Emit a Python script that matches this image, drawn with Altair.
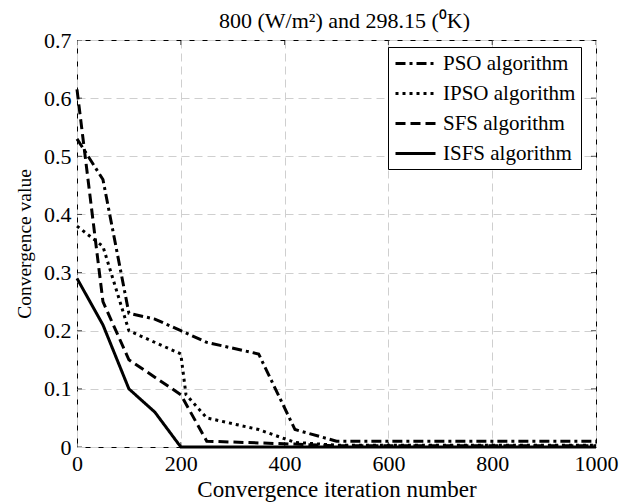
import altair as alt
import pandas as pd

# ---- data ----
series_names = ["PSO algorithm", "IPSO algorithm", "SFS algorithm", "ISFS algorithm"]

pso_x = [0, 50, 100, 150, 200, 250, 350, 420, 500, 1000]
pso_y = [0.53, 0.46, 0.23, 0.22, 0.20, 0.18, 0.16, 0.03, 0.01, 0.01]

ipso_x = [0, 50, 100, 200, 210, 250, 350, 420, 500, 1000]
ipso_y = [0.38, 0.345, 0.20, 0.16, 0.09, 0.05, 0.03, 0.008, 0.003, 0.003]

sfs_x = [0, 50, 100, 200, 250, 420, 500, 1000]
sfs_y = [0.615, 0.25, 0.15, 0.09, 0.01, 0.005, 0.002, 0.002]

isfs_x = [0, 50, 100, 150, 200, 1000]
isfs_y = [0.29, 0.21, 0.10, 0.06, 0.0, 0.0]

x_ticks = [0, 200, 400, 600, 800, 1000]
y_ticks = [0, 0.1, 0.2, 0.3, 0.4, 0.5, 0.6, 0.7]

rows = []
for name, xs, ys in zip(series_names, [pso_x, ipso_x, sfs_x, isfs_x], [pso_y, ipso_y, sfs_y, isfs_y]):
    for i, (a, b) in enumerate(zip(xs, ys)):
        rows.append({"series": name, "iter": a, "value": b, "order": i})
df = pd.DataFrame(rows)

xtick_df = pd.DataFrame([{"x": t, "y": e} for t in x_ticks for e in [0, 0.7]])
ytick_df = pd.DataFrame([{"y": t, "x": e} for t in y_ticks for e in [0, 1000]])

FONT = "Liberation Serif"

xscale = alt.Scale(domain=[0, 1000], nice=False, zero=False)
yscale = alt.Scale(domain=[0, 0.7], nice=False, zero=False)

lines = alt.Chart(df).mark_line(strokeWidth=3, color="black", strokeCap="butt").encode(
    x=alt.X("iter:Q", scale=xscale,
            axis=alt.Axis(values=x_ticks, title="Convergence iteration number", format="d",
                          titleFontSize=23)),
    y=alt.Y("value:Q", scale=yscale,
            axis=alt.Axis(values=y_ticks, title="Convergence value", titleFontSize=19.5,
                          labelExpr="datum.value == 0 ? '0' : format(datum.value, '.1f')")),
    strokeDash=alt.StrokeDash(
        "series:N",
        scale=alt.Scale(domain=series_names,
                        range=[[10, 4, 3, 4], [3, 4], [10, 5], [1, 0]]),
        legend=alt.Legend(title=None, orient="none", legendX=311, legendY=7,
                          fillColor="white", strokeColor="black",
                          padding=5, symbolType="M-2,0H2", symbolStrokeWidth=3,
                          symbolStrokeColor="black", symbolSize=400, symbolOffset=11,
                          labelFont=FONT, labelFontSize=21, labelColor="black",
                          labelOffset=16, rowPadding=8),
    ),
    order="order:Q",
)

xt = alt.Chart(xtick_df).mark_tick(orient="vertical", size=10, thickness=1, color="black", clip=True).encode(
    x=alt.X("x:Q", scale=xscale), y=alt.Y("y:Q", scale=yscale))
yt = alt.Chart(ytick_df).mark_tick(orient="horizontal", size=10, thickness=1, color="black", clip=True).encode(
    x=alt.X("x:Q", scale=xscale), y=alt.Y("y:Q", scale=yscale))

chart = alt.layer(lines, xt, yt).properties(
    width=519, height=407,
    title=alt.TitleParams("800 (W/m²) and 298.15 (⁰K)", font=FONT, fontSize=22,
                          fontWeight="normal", color="black", offset=5, dy=9, dx=8,
                          anchor="middle"),
    padding={"left": 77, "top": 40, "right": 36, "bottom": 55},
    autosize="none",
    background="white",
).configure(font=FONT).configure_view(stroke="black", strokeWidth=1).configure_axis(
    domain=False, ticks=False, grid=True, gridColor="#cfcfcf", gridDash=[8, 5], gridWidth=1,
    labelFont=FONT, labelFontSize=22, labelColor="black", labelPadding=6,
    labelFlush=False, labelOverlap=False,
    titleFont=FONT, titleFontSize=22, titleFontWeight="normal", titleColor="black",
).configure_axisY(titlePadding=9).configure_axisX(titlePadding=4)

chart.save("out.html", embed_options={"renderer": "svg", "actions": False})
